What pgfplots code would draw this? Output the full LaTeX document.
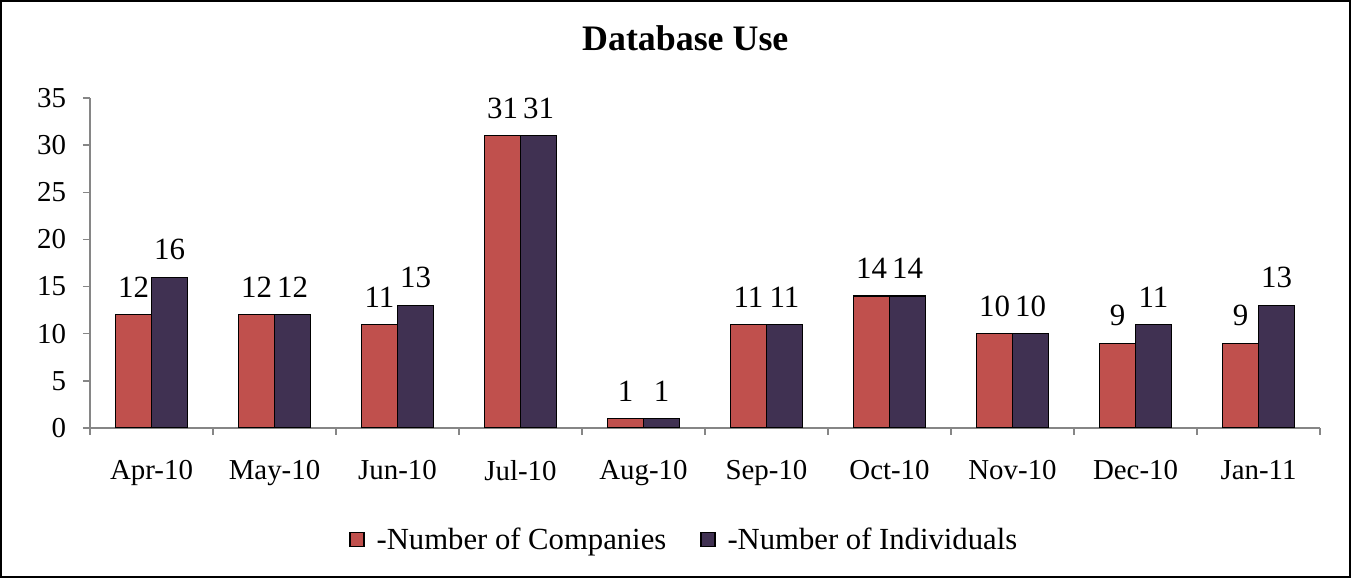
\documentclass[border=0pt]{standalone}
\usepackage{fontspec}
\setmainfont{Liberation Serif}
\usepackage{pgfplots}
\pgfplotsset{compat=1.18}
\definecolor{cred}{HTML}{C0504D}
\definecolor{cpurp}{HTML}{403152}
\definecolor{axgray}{HTML}{868686}
\begin{document}
\begin{tikzpicture}
\useasboundingbox (0,0) rectangle (675.5bp,289bp);
\draw[line width=0.75bp] (0.5bp,0.5bp) rectangle (675bp,288.5bp);
\begin{axis}[
  at={(45bp,75bp)}, anchor=south west,
  scale only axis, width=615bp, height=165bp,
  xmin=-0.5, xmax=9.5, ymin=0, ymax=35,
  ybar=0pt, bar width=18bp,
  axis x line*=bottom, axis y line*=left,
  axis line style={axgray, line width=0.75bp},
  every tick/.style={axgray, line width=0.75bp},
  tick align=outside,
  xtick={0,...,9},
  xticklabels={Apr-10,May-10,Jun-10,Jul-10,Aug-10,Sep-10,Oct-10,Nov-10,Dec-10,Jan-11},
  major x tick style={draw=none},
  minor xtick={-0.5,0.5,...,9.5},
  minor tick length=3.5bp,
  major tick length=3.5bp,
  ytick={0,5,...,35},
  /pgf/number format/assume math mode=true,
  tick label style={font=\fontsize{14.5}{16}\selectfont, text=black},
  xticklabel style={yshift=-9bp},
  yticklabel style={xshift=-5bp},
  nodes near coords,
  every node near coord/.append style={font=\fontsize{15.5}{17}\selectfont, text=black, yshift=5bp},
  title={Database Use},
  title style={font=\bfseries\fontsize{18}{21}\selectfont, at={(0.484,1)}, anchor=center, yshift=24bp},
  legend columns=2,
  legend style={draw=none, at={(0.484,-0.339)}, anchor=center, font=\fontsize{15.4}{17}\selectfont,
    /tikz/every even column/.append style={column sep=15bp}},
  legend image code/.code={\draw[#1, line width=0.6bp] (0bp,-3.5bp) rectangle (7bp,3.5bp); \path (11bp,0bp);},
]
\addplot[fill=cred, draw=black, line width=0.6bp] coordinates {(0,12) (1,12) (2,11) (3,31) (4,1) (5,11) (6,14) (7,10) (8,9) (9,9)};
\addplot[fill=cpurp, draw=black, line width=0.6bp] coordinates {(0,16) (1,12) (2,13) (3,31) (4,1) (5,11) (6,14) (7,10) (8,11) (9,13)};
\legend{-Number of Companies, -Number of Individuals}
\end{axis}
\end{tikzpicture}
\end{document}
